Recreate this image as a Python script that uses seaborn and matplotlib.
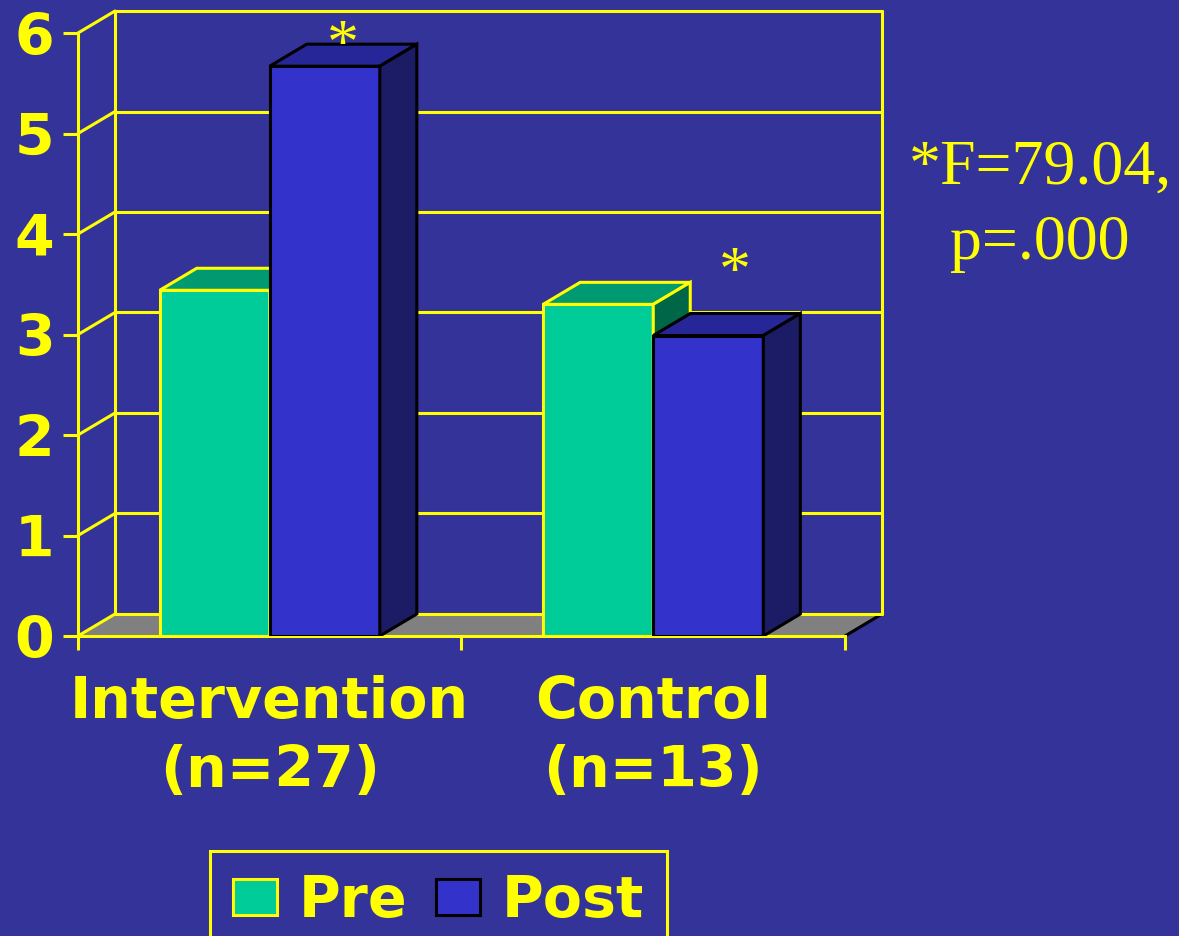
import numpy as np
import pandas as pd
import matplotlib
matplotlib.use('Agg')
import matplotlib.pyplot as plt
import seaborn as sns
from matplotlib.patches import Polygon, Patch

# values
groups = ['Intervention\n(n=27)', 'Control\n(n=13)']
times = ['Pre', 'Post']
pre_scores = [3.44, 3.30]
post_scores = [5.67, 2.99]
star_lift = [0.03, 0.45]      # asterisk baseline above each post bar
stat_note = '*F=79.04,\np=.000'
y_ticks = [0, 1, 2, 3, 4, 5, 6]

bg = '#333399'
yellow = '#FFFF00'
front = {'Pre': '#00CC99', 'Post': '#3333CC'}
top = {'Pre': '#009970', 'Post': '#262699'}
side = {'Pre': '#006648', 'Post': '#1C1C66'}
edge = {'Pre': yellow, 'Post': 'black'}

df = pd.DataFrame({'group': groups * 2,
                   'time': ['Pre'] * 2 + ['Post'] * 2,
                   'score': pre_scores + post_scores})

sns.set_style('white', {'axes.facecolor': 'none', 'figure.facecolor': bg})
plt.rcParams['font.family'] = ['DejaVu Sans']
plt.rcParams['font.weight'] = 'bold'

fig = plt.figure(figsize=(11.79, 9.36), dpi=100)
ax = fig.add_axes([78 / 1179, 300 / 936, 804 / 1179, 626 / 936])

sns.barplot(data=df, x='group', y='score', hue='time', hue_order=times,
            palette=front, saturation=1, width=0.574, gap=0, legend=False, ax=ax)

# depth of the fake 3d box, data units
dx, dy = 0.0965, 0.219
ax.set_xlim(-0.5, 1.5 + dx)
ax.set_ylim(0, 6.229)

# floor
ax.add_patch(Polygon([(-0.5, 0), (1.5, 0), (1.5 + dx, dy), (-0.5 + dx, dy)],
                     closed=True, fc='#808080', ec='none', zorder=0.5))
ax.plot([1.5, 1.5 + dx], [0, dy], color='black', lw=2.2, zorder=0.6, clip_on=False)

# back wall and left wall lines
for t in y_ticks:
    ax.plot([-0.5 + dx, 1.5 + dx], [t + dy, t + dy], color=yellow, lw=2.2, zorder=0.7, clip_on=False)
    ax.plot([-0.5, -0.5 + dx], [t, t + dy], color=yellow, lw=2.2, zorder=0.7, clip_on=False)
for xb in [-0.5 + dx, 1.5 + dx]:
    ax.plot([xb, xb], [dy, y_ticks[-1] + dy], color=yellow, lw=2.2, zorder=0.7, clip_on=False)

# 3d faces on every bar
for t, cont in zip(times, ax.containers):
    z = 2 if t == 'Pre' else 3
    for bar in cont:
        x0, w, h = bar.get_x(), bar.get_width(), bar.get_height()
        bar.set_edgecolor(edge[t])
        bar.set_linewidth(2.2)
        bar.set_zorder(z)
        ax.add_patch(Polygon([(x0, h), (x0 + w, h), (x0 + w + dx, h + dy), (x0 + dx, h + dy)],
                             closed=True, fc=top[t], ec=edge[t], lw=2.2, zorder=z))
        ax.add_patch(Polygon([(x0 + w, 0), (x0 + w + dx, dy), (x0 + w + dx, h + dy), (x0 + w, h)],
                             closed=True, fc=side[t], ec=edge[t], lw=2.2, zorder=z))

# asterisks over the post bars
for i, (bar, lift) in enumerate(zip(ax.containers[1], star_lift)):
    ax.text(bar.get_x() + bar.get_width() / 2 + dx / 2 + 0.02 * i, bar.get_height() + lift, '*',
            ha='center', va='baseline', fontsize=46, color=yellow,
            family=['Liberation Serif'], fontweight='normal', zorder=5)

# axes styling
for s in ['top', 'right']:
    ax.spines[s].set_visible(False)
ax.spines['left'].set_color(yellow)
ax.spines['left'].set_linewidth(2.2)
ax.spines['left'].set_bounds(0, 6)
ax.spines['bottom'].set_color(yellow)
ax.spines['bottom'].set_linewidth(2.2)
ax.spines['bottom'].set_bounds(-0.5, 1.5)

ax.set_yticks(y_ticks)
ax.tick_params(axis='y', left=True, colors=yellow, length=11, width=2.2, labelsize=41, pad=6)
ax.set_xticks([-0.5, 0.5, 1.5], labels=['', '', ''])
ax.set_xticks([0, 1], labels=groups, minor=True)
ax.tick_params(axis='x', which='major', bottom=True, colors=yellow, length=10, width=2.2)
ax.tick_params(axis='x', which='minor', bottom=True, length=0, pad=28, labelsize=41, labelcolor=yellow)
for lbl in ax.get_xticklabels(minor=True):
    lbl.set_linespacing(1.32)
ax.set_xlabel('')
ax.set_ylabel('')

# statistic note
fig.text(1040 / 1179, 1 - 206 / 936, stat_note, ha='center', va='center', fontsize=46,
         color=yellow, family=['Liberation Serif'], fontweight='normal', linespacing=1.4)

# legend
handles = [Patch(fc=front[t], ec=edge[t], lw=2.2) for t in times]
leg = fig.legend(handles, times, loc='upper left', bbox_to_anchor=(210 / 1179, 1 - 851 / 936),
                 ncol=2, frameon=True, fancybox=False, facecolor=bg, edgecolor=yellow,
                 framealpha=1, fontsize=41, labelcolor=yellow, handlelength=0.78,
                 handleheight=0.6, handletextpad=0.38, columnspacing=0.5,
                 borderpad=0.4, borderaxespad=0)
leg.get_frame().set_linewidth(2.2)

fig.savefig('out.png', dpi=100, facecolor=bg)
